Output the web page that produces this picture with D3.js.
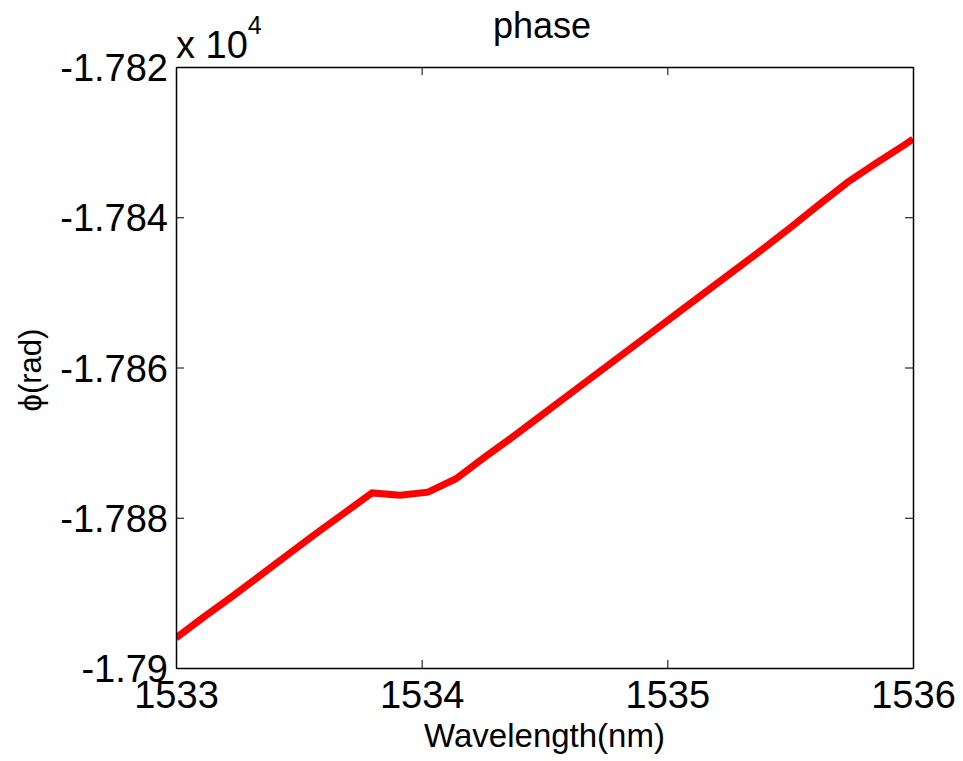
<!DOCTYPE html>
<html>
<head>
<meta charset="utf-8">
<script src="https://cdn.jsdelivr.net/npm/d3@7"></script>
<style>
  html, body { margin: 0; padding: 0; background: #fff; }
  svg { display: block; font-family: "Liberation Sans", Arial, sans-serif; }
</style>
</head>
<body>
<svg id="chart" width="963" height="761"></svg>
<script>
// Wavelength samples (nm)
const wavelength = [
  1533.000, 1533.114, 1533.228, 1533.342, 1533.456, 1533.570, 1533.684,
  1533.798, 1533.912, 1534.026, 1534.140, 1534.254, 1534.368, 1534.482,
  1534.596, 1534.710, 1534.824, 1534.938, 1535.052, 1535.166, 1535.280,
  1535.394, 1535.508, 1535.622, 1535.736, 1535.850, 1535.964, 1536.000
];
// Phase (rad)
const phase = [
  -17896.0, -17893.2, -17890.5, -17887.7, -17884.9, -17882.1, -17879.4,
  -17876.7, -17877.0, -17876.6, -17874.8, -17872.0, -17869.3, -17866.5,
  -17863.7, -17860.9, -17858.1, -17855.3, -17852.5, -17849.7, -17846.9,
  -17844.1, -17841.2, -17838.2, -17835.3, -17832.8, -17830.4, -17829.6
];
const xTicks = [1533, 1534, 1535, 1536];
const xTickLabels = ["1533", "1534", "1535", "1536"];
const yTicks = [-17900, -17880, -17860, -17840, -17820];
const yTickLabels = ["-1.79", "-1.788", "-1.786", "-1.784", "-1.782"];

const svg = d3.select("#chart");
const L = 176, R = 913, T = 67, B = 668;

const x = d3.scaleLinear().domain([1533, 1536]).range([L, R]);
const y = d3.scaleLinear().domain([-17900, -17820]).range([B, T]);

svg.append("defs").append("clipPath").attr("id", "plotClip")
  .append("rect").attr("x", L).attr("y", T).attr("width", R - L).attr("height", B - T);

// Data line
const data = wavelength.map((w, i) => [w, phase[i]]);
svg.append("path")
  .datum(data)
  .attr("clip-path", "url(#plotClip)")
  .attr("fill", "none")
  .attr("stroke", "#ff0000")
  .attr("stroke-width", 7)
  .attr("stroke-linejoin", "miter")
  .attr("d", d3.line().x(d => x(d[0])).y(d => y(d[1])));

// Axes with inward ticks on all four sides
const tickLen = 8;
const fmtX = (d, i) => xTickLabels[i];
const fmtY = (d, i) => yTickLabels[i];

const axBottom = svg.append("g").attr("transform", `translate(0,${B})`)
  .call(d3.axisBottom(x).tickValues(xTicks).tickFormat(fmtX).tickSizeInner(-tickLen).tickSizeOuter(0).tickPadding(13));
const axTop = svg.append("g").attr("transform", `translate(0,${T})`)
  .call(d3.axisTop(x).tickValues(xTicks).tickFormat("").tickSizeInner(-tickLen).tickSizeOuter(0));
const axLeft = svg.append("g").attr("transform", `translate(${L},0)`)
  .call(d3.axisLeft(y).tickValues(yTicks).tickFormat(fmtY).tickSizeInner(-tickLen).tickSizeOuter(0).tickPadding(8));
const axRight = svg.append("g").attr("transform", `translate(${R},0)`)
  .call(d3.axisRight(y).tickValues(yTicks).tickFormat("").tickSizeInner(-tickLen).tickSizeOuter(0));

[axBottom, axTop, axLeft, axRight].forEach(g => {
  g.selectAll(".domain").attr("stroke", "#000").attr("stroke-width", 1.5);
  g.selectAll(".tick line").attr("stroke", "#000").attr("stroke-width", 1);
  g.selectAll("text").attr("fill", "#000").style("font-size", "38px")
    .style("font-family", "'Liberation Sans', Arial, sans-serif");
});
axBottom.selectAll("text").attr("dy", "0.71em");
axLeft.selectAll("text").attr("dy", "0.36em");

// Exponent label
const expo = svg.append("text").attr("x", 176).attr("y", 58)
  .style("font-size", "38px").attr("fill", "#000");
expo.append("tspan").text("x 10");
expo.append("tspan").attr("dy", -24).style("font-size", "25px").text("4");

// Title
svg.append("text").attr("x", 542).attr("y", 38)
  .attr("text-anchor", "middle").style("font-size", "36px").attr("fill", "#000")
  .text("phase");

// X axis label
svg.append("text").attr("x", (L + R) / 2).attr("y", 747)
  .attr("text-anchor", "middle").style("font-size", "33px").attr("fill", "#000")
  .text("Wavelength(nm)");

// Y axis label
svg.append("text").attr("transform", "translate(41,370) rotate(-90)")
  .attr("text-anchor", "middle").style("font-size", "31px").attr("fill", "#000")
  .text("ϕ(rad)");
</script>
</body>
</html>
